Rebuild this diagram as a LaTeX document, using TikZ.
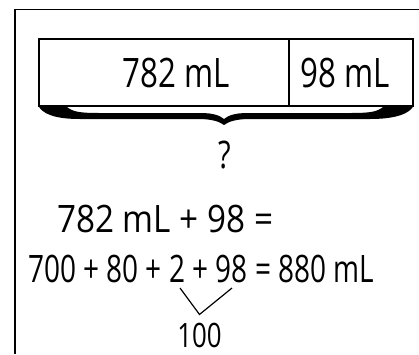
\documentclass[tikz,border=0pt]{standalone}
\usepackage{fontspec}
\setmainfont{Open Sans}
\newfontfamily\tapefont[FakeStretch=0.77]{Open Sans}
\newfontfamily\firstfont[FakeStretch=0.88]{Open Sans}
\newfontfamily\sumfont[FakeStretch=0.74]{Open Sans}
\usetikzlibrary{positioning}

\begin{document}
\begin{tikzpicture}[
        x=1pt, y=-1pt,
        % tape parts and the sums, all in a narrow sans
        part/.style={rectangle, draw, line width=1.2pt, inner sep=0pt, outer sep=0pt,
            minimum height=67pt,
            font=\tapefont\fontsize{40.6}{44}\selectfont},
        eqline/.style={anchor=base west, inner sep=0pt},
        small/.style={inner sep=0pt, font=\tapefont\fontsize{33.6}{36}\selectfont}
    ]
        \useasboundingbox (0,0) rectangle (419,354);
        \draw[line width=1.5pt] (419,9.5) -- (15,9.5) -- (15,354);

        \node[part, minimum width=250pt] (big) at (164,72.5) {\hspace*{25pt}782 mL};
        \node[part, minimum width=124pt, right=0pt of big] (rest) {98 mL\hspace*{12pt}};

        % brace under the tape
        \fill (38,105) -- (66,106) .. controls (72,112) and (80,113) .. (100,113)
            -- (200,113) .. controls (215,113) and (220,116) .. (224,119)
            .. controls (228,116) and (233,113) .. (248,113)
            -- (350,113) .. controls (370,113) and (378,112) .. (384,106)
            -- (414,105) .. controls (410,114) and (395,119) .. (370,119)
            -- (250,119) .. controls (235,119) and (228,122) .. (224,125)
            .. controls (220,122) and (213,119) .. (198,119)
            -- (80,119) .. controls (55,119) and (42,114) .. (38,105) -- cycle;
        \node[small, font=\tapefont\fontsize{38}{40}\selectfont] (ask) at (225,155) {?};

        \node[eqline, font=\firstfont\fontsize{37.8}{40}\selectfont] (first) at (57,232) {782 mL + 98 =};
        \node[eqline, font=\sumfont\fontsize{37.8}{40}\selectfont] (second) at (28,282) {700 + 80 + 2 + 98 = 880 mL};

        % the pair that makes 100
        \coordinate (two) at (180,288);
        \coordinate (ninetyeight) at (232,288);
        \node[small] (hundred) at (199.5,335) {100};
        \draw[line width=1.2pt] (two) -- ([yshift=8pt]hundred.north) -- (ninetyeight);
    \end{tikzpicture}
\end{document}
